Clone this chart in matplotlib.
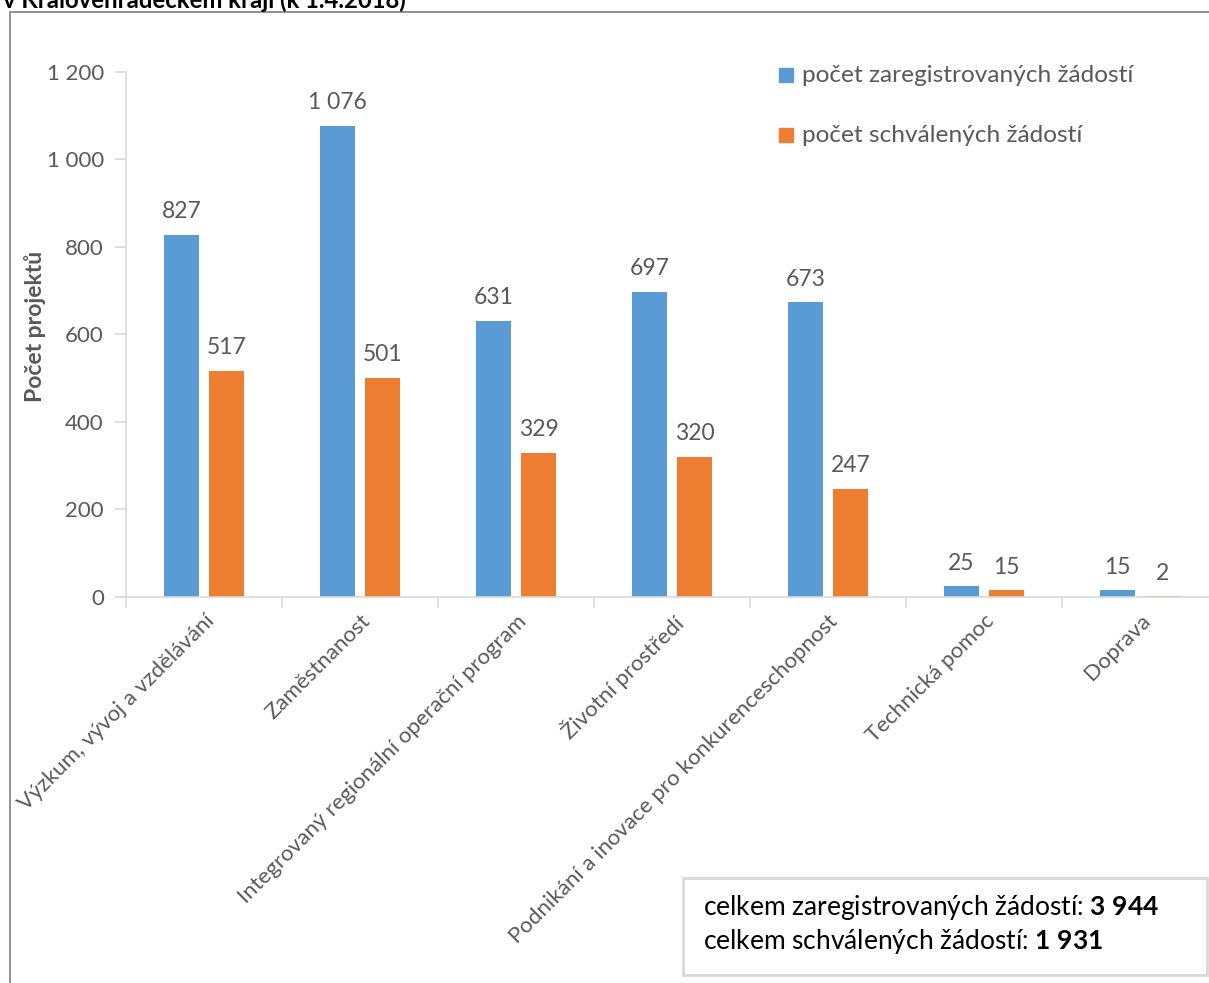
import numpy as np
import matplotlib.pyplot as plt
from matplotlib.patches import Rectangle

plt.rcParams['font.family'] = ['Lato', 'DejaVu Sans']
plt.rcParams['mathtext.fontset'] = 'custom'
plt.rcParams['mathtext.bf'] = 'Lato:bold'
plt.rcParams['mathtext.rm'] = 'Lato'

kategorie = ['Výzkum, vývoj a vzdělávání', 'Zaměstnanost',
             'Integrovaný regionální operační program', 'Životní prostředí',
             'Podnikání a inovace pro konkurenceschopnost', 'Technická pomoc', 'Doprava']
zaregistrovane = [827, 1076, 631, 697, 673, 25, 15]
schvalene = [517, 501, 329, 320, 247, 15, 2]
yticks = [0, 200, 400, 600, 800, 1000, 1200]

modra = '#5B9BD5'
oranzova = '#ED7D31'
seda = '#595959'


def fmt(v):
    return '{:,}'.format(v).replace(',', ' ')


def fmt_bf(v):
    # kazda skupina cislic tucne, mezera normalni
    return ' '.join('$\\mathbf{' + c + '}$' for c in fmt(v).split(' '))


W, H = 1209, 983
fig = plt.figure(figsize=(W / 100, H / 100), dpi=100)

# ramecek grafu
fig.patches.append(Rectangle((10 / W, -0.1), 1.2, 1 - 12 / H + 0.1, transform=fig.transFigure,
                             fill=False, edgecolor='#7F7F7F', linewidth=1.2))
fig.text(3 / W, 1 - 8 / H, 'v Královéhradeckém kraji (k 1.4.2018)', fontsize=17.2,
         fontweight='bold', ha='left', va='baseline')

left, right = 126, 126 + 7 * 156
top, bottom = 71.5, 597
ax = fig.add_axes([left / W, 1 - bottom / H, (right - left) / W, (bottom - top) / H])

x = np.arange(len(kategorie))
sirka = 0.224
posun = 0.145
ax.bar(x - posun, zaregistrovane, sirka, color=modra)
ax.bar(x + posun, schvalene, sirka, color=oranzova)

for xi, v in zip(x, zaregistrovane):
    ax.annotate(fmt(v), (xi - posun, v), xytext=(0, 9), textcoords='offset points',
                ha='center', va='bottom', fontsize=16.5, color=seda)
for xi, v in zip(x, schvalene):
    ax.annotate(fmt(v), (xi + posun, v), xytext=(0, 9), textcoords='offset points',
                ha='center', va='bottom', fontsize=16.5, color=seda)

ax.set_xlim(-0.5, len(kategorie) - 0.5)
ax.set_ylim(0, 1200)
ax.set_yticks(yticks)
ax.set_yticklabels([fmt(t) for t in yticks], fontsize=16, color=seda)
ax.set_xticks(x)
ax.set_xticklabels(kategorie, rotation=45, ha='right', rotation_mode='anchor',
                   fontsize=16, color=seda)
ax.set_xticks(np.arange(len(kategorie) + 1) - 0.5, minor=True)
ax.tick_params(axis='x', which='major', length=0, pad=10)
ax.tick_params(axis='x', which='minor', length=8, color='#D9D9D9', width=1.2)
ax.tick_params(axis='y', length=8, color='#D9D9D9', width=1.2, pad=8)

for s in ['top', 'right']:
    ax.spines[s].set_visible(False)
for s in ['left', 'bottom']:
    ax.spines[s].set_color('#D9D9D9')
    ax.spines[s].set_linewidth(1.2)

fig.text(35 / W, 1 - 326 / H, 'Počet projektů', fontsize=16.5, fontweight='bold', color=seda,
         rotation=90, ha='center', va='center')

# legenda
for i, (lab, c) in enumerate([('počet zaregistrovaných žádostí', modra),
                              ('počet schválených žádostí', oranzova)]):
    yy = 75 + i * 60
    fig.patches.append(Rectangle((779 / W, 1 - (yy + 7) / H), 14 / W, 14 / H,
                                 transform=fig.transFigure, color=c))
    fig.text(802 / W, 1 - yy / H, lab, fontsize=17.6, color=seda, ha='left', va='center')

# souhrn
celkem_zaregistrovano = 3944
celkem_schvaleno = 1931
fig.patches.append(Rectangle((683 / W, 1 - 975 / H), 524 / W, 97 / H, transform=fig.transFigure,
                             fill=False, edgecolor='#D9D9D9', linewidth=2))
fig.text(703 / W, 1 - 907 / H, 'celkem zaregistrovaných žádostí: ' + fmt_bf(celkem_zaregistrovano),
         fontsize=19, ha='left', va='center')
fig.text(703 / W, 1 - 941 / H, 'celkem schválených žádostí: ' + fmt_bf(celkem_schvaleno),
         fontsize=19, ha='left', va='center')

fig.savefig('out.png', dpi=100)
